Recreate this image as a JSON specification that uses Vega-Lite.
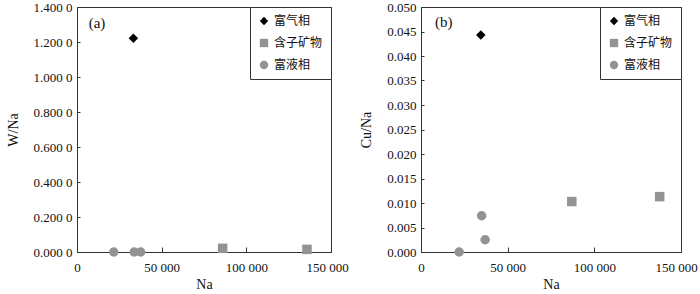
{
  "$schema": "https://vega.github.io/schema/vega-lite/v6.json",
  "padding": {"left": 5, "top": 0, "right": 0, "bottom": 0},
  "config": {
    "font": "Liberation Serif",
    "view": {"stroke": "#333", "strokeWidth": 1},
    "concat": {"spacing": 10},
    "axis": {
      "grid": false,
      "domainColor": "#333",
      "tickColor": "#333",
      "labelColor": "#111",
      "titleColor": "#111",
      "labelFlush": false,
      "labelOverlap": false
    },
    "legend": {
      "orient": "top-right",
      "offset": 0,
      "strokeColor": "#333",
      "fillColor": "white",
      "padding": 8,
      "rowPadding": 10,
      "labelFont": "Noto Sans CJK SC",
      "labelFontSize": 12,
      "labelColor": "#111",
      "symbolSize": 70,
      "labelOffset": 4,
      "cornerRadius": 0
    }
  },
  "datasets": {
    "a": [
      {"Na": 33300, "val": 1.221, "type": "富气相"},
      {"Na": 86000, "val": 0.021, "type": "含子矿物"},
      {"Na": 135800, "val": 0.015, "type": "含子矿物"},
      {"Na": 21700, "val": 0.0, "type": "富液相"},
      {"Na": 33800, "val": 0.0, "type": "富液相"},
      {"Na": 37600, "val": 0.0, "type": "富液相"}
    ],
    "b": [
      {"Na": 34500, "val": 0.0443, "type": "富气相"},
      {"Na": 87000, "val": 0.0103, "type": "含子矿物"},
      {"Na": 137700, "val": 0.0113, "type": "含子矿物"},
      {"Na": 22000, "val": 0.0, "type": "富液相"},
      {"Na": 35000, "val": 0.0074, "type": "富液相"},
      {"Na": 37000, "val": 0.0025, "type": "富液相"}
    ],
    "la": [{"Na": 11800, "val": 1.31, "label": "(a)"}],
    "lb": [{"Na": 13100, "val": 0.047, "label": "(b)"}]
  },
  "resolve": {
    "scale": {"color": "independent", "shape": "independent"},
    "legend": {"color": "independent", "shape": "independent"}
  },
  "hconcat": [
    {
      "width": 254,
      "height": 245,
      "resolve": {"axis": {"x": "independent", "y": "independent"}},
      "layer": [
        {
          "data": {"name": "a"},
          "mark": {"type": "point", "filled": true, "opacity": 1, "size": 90},
          "encoding": {
            "x": {"field": "Na", "type": "quantitative", "title": "Na",
                  "scale": {"domain": [0, 150000], "nice": false},
                  "axis": {"values": [0, 50000, 100000, 150000], "tickSize": -5,
                           "labelPadding": 14, "titlePadding": 3,
                           "labelFont": "Liberation Serif", "labelFontSize": 13, "labelOverlap": false,
                           "labelOffset": {"condition": {"test": "datum.value == 150000", "value": -4}, "value": 0},
                           "titleFont": "Liberation Serif", "titleFontSize": 14, "titleFontWeight": "normal",
                           "labelExpr": "replace(format(datum.value, ','), ',', ' ')"}},
            "y": {"field": "val", "type": "quantitative", "title": "W/Na",
                  "scale": {"domain": [0, 1.4], "nice": false},
                  "axis": {"values": [0, 0.2, 0.4, 0.6, 0.8, 1.0, 1.2, 1.4], "tickSize": -3,
                           "labelPadding": 8, "titlePadding": 13,
                           "labelFont": "Liberation Serif", "labelFontSize": 13, "labelOverlap": false,
                           "titleFont": "Liberation Serif", "titleFontSize": 14, "titleFontWeight": "normal",
                           "labelExpr": "slice(format(datum.value, '.4f'), 0, 5) + ' ' + slice(format(datum.value, '.4f'), 5)"}},
            "shape": {"field": "type", "type": "nominal", "title": null,
                      "scale": {"domain": ["富气相", "含子矿物", "富液相"], "range": ["diamond", "square", "circle"]},
                      "legend": {"orient": "top-right", "title": null}},
            "color": {"field": "type", "type": "nominal", "title": null,
                      "scale": {"domain": ["富气相", "含子矿物", "富液相"], "range": ["#000000", "#939393", "#939393"]},
                      "legend": {"orient": "top-right", "title": null}}
          }
        },
        {
          "data": {"name": "la"},
          "mark": {"type": "text", "font": "Liberation Serif", "fontSize": 15, "color": "#111"},
          "encoding": {
            "x": {"field": "Na", "type": "quantitative", "axis": null},
            "y": {"field": "val", "type": "quantitative", "axis": null},
            "text": {"field": "label"}
          }
        }
      ]
    },
    {
      "width": 260,
      "height": 245,
      "resolve": {"axis": {"x": "independent", "y": "independent"}},
      "layer": [
        {
          "data": {"name": "b"},
          "mark": {"type": "point", "filled": true, "opacity": 1, "size": 90},
          "encoding": {
            "x": {"field": "Na", "type": "quantitative", "title": "Na",
                  "scale": {"domain": [0, 150000], "nice": false},
                  "axis": {"values": [0, 50000, 100000, 150000], "tickSize": -5,
                           "labelPadding": 14, "titlePadding": 3,
                           "labelFont": "Liberation Serif", "labelFontSize": 13, "labelOverlap": false,
                           "labelOffset": {"condition": {"test": "datum.value == 150000", "value": -5}, "value": 0},
                           "titleFont": "Liberation Serif", "titleFontSize": 14, "titleFontWeight": "normal",
                           "labelExpr": "replace(format(datum.value, ','), ',', ' ')"}},
            "y": {"field": "val", "type": "quantitative", "title": "Cu/Na",
                  "scale": {"domain": [0, 0.05], "nice": false},
                  "axis": {"values": [0, 0.005, 0.01, 0.015, 0.02, 0.025, 0.03, 0.035, 0.04, 0.045, 0.05], "tickSize": -3,
                           "labelPadding": 8, "titlePadding": 13,
                           "labelFont": "Liberation Serif", "labelFontSize": 13, "labelOverlap": false,
                           "titleFont": "Liberation Serif", "titleFontSize": 14, "titleFontWeight": "normal",
                           "format": ".3f"}},
            "shape": {"field": "type", "type": "nominal", "title": null,
                      "scale": {"domain": ["富气相", "含子矿物", "富液相"], "range": ["diamond", "square", "circle"]},
                      "legend": {"orient": "top-right", "title": null}},
            "color": {"field": "type", "type": "nominal", "title": null,
                      "scale": {"domain": ["富气相", "含子矿物", "富液相"], "range": ["#000000", "#939393", "#939393"]},
                      "legend": {"orient": "top-right", "title": null}}
          }
        },
        {
          "data": {"name": "lb"},
          "mark": {"type": "text", "font": "Liberation Serif", "fontSize": 15, "color": "#111"},
          "encoding": {
            "x": {"field": "Na", "type": "quantitative", "axis": null},
            "y": {"field": "val", "type": "quantitative", "axis": null},
            "text": {"field": "label"}
          }
        }
      ]
    }
  ]
}
